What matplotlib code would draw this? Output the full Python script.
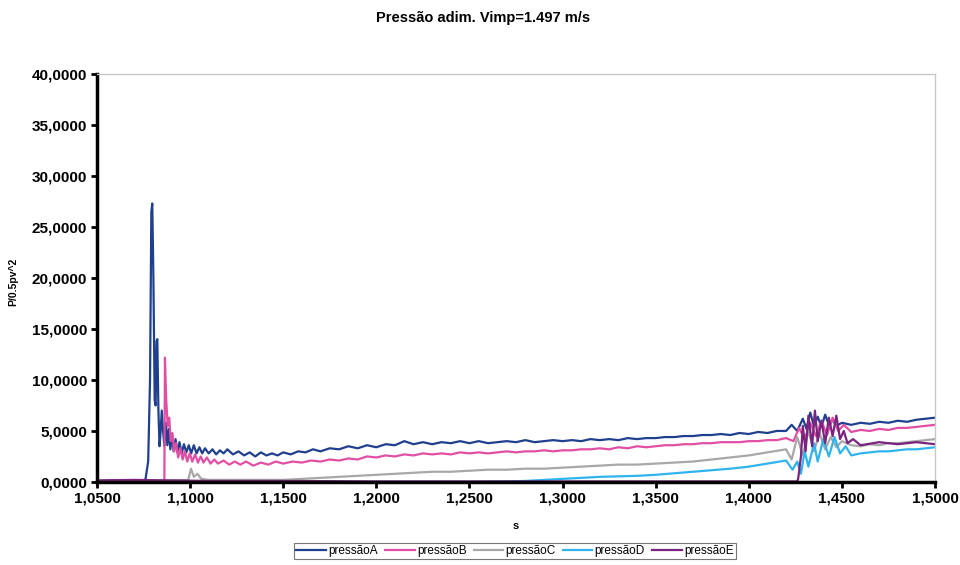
import matplotlib
matplotlib.use("Agg")
import matplotlib.pyplot as plt
from matplotlib.ticker import FuncFormatter, MultipleLocator

plt.rcParams['font.family'] = ['Liberation Sans', 'DejaVu Sans']

# pressão A
t_a = [1.0500, 1.0600, 1.0700, 1.0760, 1.0775, 1.0785, 1.0792, 1.0797, 1.0803, 1.0810,
       1.0815, 1.0820, 1.0824, 1.0830, 1.0836, 1.0842, 1.0848, 1.0855, 1.0862, 1.0870,
       1.0878, 1.0886, 1.0894, 1.0903, 1.0912, 1.0922, 1.0932, 1.0943, 1.0955, 1.0967,
       1.0980, 1.0993, 1.1006, 1.1020, 1.1035, 1.1050, 1.1065, 1.1080, 1.1100, 1.1120,
       1.1140, 1.1160, 1.1180, 1.1200, 1.1230, 1.1260, 1.1290, 1.1320, 1.1350, 1.1380,
       1.1410, 1.1440, 1.1470, 1.1500, 1.1540, 1.1580, 1.1620, 1.1660, 1.1700, 1.1750,
       1.1800, 1.1850, 1.1900, 1.1950, 1.2000, 1.2050, 1.2100, 1.2150, 1.2200, 1.2250,
       1.2300, 1.2350, 1.2400, 1.2450, 1.2500, 1.2550, 1.2600, 1.2650, 1.2700, 1.2750,
       1.2800, 1.2850, 1.2900, 1.2950, 1.3000, 1.3050, 1.3100, 1.3150, 1.3200, 1.3250,
       1.3300, 1.3350, 1.3400, 1.3450, 1.3500, 1.3550, 1.3600, 1.3650, 1.3700, 1.3750,
       1.3800, 1.3850, 1.3900, 1.3950, 1.4000, 1.4050, 1.4100, 1.4150, 1.4200, 1.4230,
       1.4260, 1.4290, 1.4310, 1.4330, 1.4350, 1.4370, 1.4390, 1.4410, 1.4430, 1.4450,
       1.4470, 1.4500, 1.4550, 1.4600, 1.4650, 1.4700, 1.4750, 1.4800, 1.4850, 1.4900,
       1.4950, 1.5000]
p_a = [0.10, 0.15, 0.10, 0.20, 2.0, 10.0, 26.5, 27.3, 20.0, 8.0,
       7.5, 13.8, 14.0, 7.0, 3.5, 5.0, 7.0, 5.0, 3.5, 5.8,
       3.6, 5.2, 3.2, 4.6, 3.0, 4.2, 2.9, 3.9, 2.8, 3.7,
       2.9, 3.6, 2.8, 3.6, 2.8, 3.4, 2.8, 3.3, 2.8, 3.2,
       2.7, 3.1, 2.8, 3.2, 2.7, 3.0, 2.6, 2.9, 2.5, 2.9,
       2.6, 2.8, 2.6, 2.9, 2.7, 3.0, 2.9, 3.2, 3.0, 3.3,
       3.2, 3.5, 3.3, 3.6, 3.4, 3.7, 3.6, 4.0, 3.7, 3.9,
       3.7, 3.9, 3.8, 4.0, 3.8, 4.0, 3.8, 3.9, 4.0, 3.9,
       4.1, 3.9, 4.0, 4.1, 4.0, 4.1, 4.0, 4.2, 4.1, 4.2,
       4.1, 4.3, 4.2, 4.3, 4.3, 4.4, 4.4, 4.5, 4.5, 4.6,
       4.6, 4.7, 4.6, 4.8, 4.7, 4.9, 4.8, 5.0, 5.0, 5.6,
       5.0, 6.2, 5.2, 6.8, 5.5, 6.4, 5.4, 6.6, 5.6, 6.1,
       5.5, 5.8, 5.6, 5.8, 5.7, 5.9, 5.8, 6.0, 5.9, 6.1,
       6.2, 6.3]

# pressão B
t_b = [1.0500, 1.0600, 1.0700, 1.0800, 1.0862, 1.0865, 1.0872, 1.0880, 1.0888, 1.0896,
       1.0905, 1.0915, 1.0925, 1.0936, 1.0948, 1.0960, 1.0972, 1.0985, 1.0998, 1.1012,
       1.1027, 1.1042, 1.1057, 1.1072, 1.1090, 1.1110, 1.1130, 1.1150, 1.1180, 1.1210,
       1.1240, 1.1270, 1.1300, 1.1340, 1.1380, 1.1420, 1.1460, 1.1500, 1.1550, 1.1600,
       1.1650, 1.1700, 1.1750, 1.1800, 1.1850, 1.1900, 1.1950, 1.2000, 1.2050, 1.2100,
       1.2150, 1.2200, 1.2250, 1.2300, 1.2350, 1.2400, 1.2450, 1.2500, 1.2550, 1.2600,
       1.2650, 1.2700, 1.2750, 1.2800, 1.2850, 1.2900, 1.2950, 1.3000, 1.3050, 1.3100,
       1.3150, 1.3200, 1.3250, 1.3300, 1.3350, 1.3400, 1.3450, 1.3500, 1.3550, 1.3600,
       1.3650, 1.3700, 1.3750, 1.3800, 1.3850, 1.3900, 1.3950, 1.4000, 1.4050, 1.4100,
       1.4150, 1.4200, 1.4240, 1.4270, 1.4300, 1.4330, 1.4360, 1.4390, 1.4420, 1.4450,
       1.4480, 1.4510, 1.4550, 1.4600, 1.4650, 1.4700, 1.4750, 1.4800, 1.4850, 1.4900,
       1.4950, 1.5000]
p_b = [0.05, 0.05, 0.10, 0.05, 0.10, 12.2, 8.0, 5.5, 6.3, 4.0,
       4.8, 3.0, 3.8, 2.4, 3.3, 2.2, 3.0, 2.0, 2.8, 2.0,
       2.7, 1.9, 2.5, 1.9, 2.4, 1.8, 2.2, 1.8, 2.1, 1.7,
       2.0, 1.7, 2.0, 1.6, 1.9, 1.7, 2.0, 1.8, 2.0, 1.9,
       2.1, 2.0, 2.2, 2.1, 2.3, 2.2, 2.5, 2.4, 2.6, 2.5,
       2.7, 2.6, 2.8, 2.7, 2.8, 2.7, 2.9, 2.8, 2.9, 2.8,
       2.9, 3.0, 2.9, 3.0, 3.0, 3.1, 3.0, 3.1, 3.1, 3.2,
       3.2, 3.3, 3.2, 3.4, 3.3, 3.5, 3.4, 3.5, 3.6, 3.6,
       3.7, 3.7, 3.8, 3.8, 3.9, 3.9, 3.9, 4.0, 4.0, 4.1,
       4.1, 4.3, 4.0, 5.3, 4.2, 5.8, 4.5, 6.0, 4.6, 6.3,
       5.0, 5.6, 4.9, 5.1, 5.0, 5.2, 5.1, 5.3, 5.3, 5.4,
       5.5, 5.6]

# pressão C
t_c = [1.0500, 1.0700, 1.0900, 1.0990, 1.1005, 1.1020, 1.1040, 1.1060, 1.1100, 1.1300,
       1.1500, 1.1600, 1.1700, 1.1800, 1.1900, 1.2000, 1.2100, 1.2200, 1.2300, 1.2400,
       1.2500, 1.2600, 1.2700, 1.2800, 1.2900, 1.3000, 1.3100, 1.3200, 1.3300, 1.3400,
       1.3500, 1.3600, 1.3700, 1.3800, 1.3900, 1.4000, 1.4100, 1.4200, 1.4230, 1.4260,
       1.4290, 1.4320, 1.4350, 1.4380, 1.4410, 1.4440, 1.4470, 1.4500, 1.4550, 1.4600,
       1.4650, 1.4700, 1.4750, 1.4800, 1.4850, 1.4900, 1.4950, 1.5000]
p_c = [0.10, 0.10, 0.15, 0.20, 1.3, 0.5, 0.8, 0.3, 0.2, 0.2,
       0.2, 0.3, 0.4, 0.5, 0.6, 0.7, 0.8, 0.9, 1.0, 1.0,
       1.1, 1.2, 1.2, 1.3, 1.3, 1.4, 1.5, 1.6, 1.7, 1.7,
       1.8, 1.9, 2.0, 2.2, 2.4, 2.6, 2.9, 3.2, 2.2, 4.4,
       2.6, 5.0, 3.0, 4.8, 3.2, 4.4, 3.4, 4.0, 3.6, 3.5,
       3.7, 3.6, 3.8, 3.8, 3.9, 4.0, 4.1, 4.2]

# pressão D
t_d = [1.0500, 1.1000, 1.1500, 1.2000, 1.2500, 1.2700, 1.2800, 1.2900, 1.3000, 1.3100,
       1.3200, 1.3300, 1.3400, 1.3500, 1.3600, 1.3700, 1.3800, 1.3900, 1.4000, 1.4100,
       1.4200, 1.4235, 1.4260, 1.4280, 1.4300, 1.4320, 1.4350, 1.4370, 1.4400, 1.4430,
       1.4460, 1.4490, 1.4520, 1.4550, 1.4600, 1.4650, 1.4700, 1.4750, 1.4800, 1.4850,
       1.4900, 1.4950, 1.5000]
p_d = [0.00, 0.00, 0.00, 0.00, 0.00, 0.05, 0.10, 0.20, 0.30, 0.40,
       0.50, 0.55, 0.60, 0.70, 0.85, 1.00, 1.15, 1.30, 1.50, 1.80,
       2.10, 1.20, 2.00, 0.80, 3.00, 1.50, 3.80, 2.00, 4.20, 2.50,
       4.40, 2.80, 3.50, 2.60, 2.80, 2.90, 3.00, 3.00, 3.10, 3.20,
       3.20, 3.30, 3.40]

# pressão E
t_e = [1.0500, 1.0700, 1.0900, 1.1100, 1.1500, 1.2000, 1.2500, 1.3000, 1.3500, 1.4000,
       1.4260, 1.4265, 1.4280, 1.4290, 1.4305, 1.4320, 1.4340, 1.4355, 1.4370, 1.4390,
       1.4410, 1.4430, 1.4450, 1.4470, 1.4490, 1.4510, 1.4530, 1.4560, 1.4600, 1.4700,
       1.4800, 1.4900, 1.5000]
p_e = [0.15, 0.20, 0.15, 0.10, 0.10, 0.05, 0.05, 0.05, 0.05, 0.05,
       0.05, 0.30, 2.50, 5.50, 3.00, 6.50, 3.50, 7.00, 4.00, 6.00,
       3.80, 6.30, 4.50, 6.50, 4.20, 5.00, 3.80, 4.20, 3.60, 3.90,
       3.70, 3.90, 3.70]

series = [
    ("pressãoA", t_a, p_a, "#1f3f8f"),
    ("pressãoB", t_b, p_b, "#e04fa4"),
    ("pressãoC", t_c, p_c, "#a8a8a8"),
    ("pressãoD", t_d, p_d, "#2fb4ee"),
    ("pressãoE", t_e, p_e, "#7a237f"),
]

fig = plt.figure(figsize=(9.6, 5.65), dpi=100)
ax = fig.add_axes([0.101, 0.147, 0.873, 0.722])

for name, t, p, color in series:
    ax.plot(t, p, color=color, lw=1.6, label=name)

ax.set_xlim(1.05, 1.5)
ax.set_ylim(0, 40)
ax.xaxis.set_major_locator(MultipleLocator(0.05))
ax.yaxis.set_major_locator(MultipleLocator(5))
comma = FuncFormatter(lambda v, _: f"{v:.4f}".replace(".", ","))
ax.xaxis.set_major_formatter(comma)
ax.yaxis.set_major_formatter(comma)

for side in ("left", "bottom"):
    ax.spines[side].set_linewidth(2.5)
    ax.spines[side].set_color("black")
for side in ("top", "right"):
    ax.spines[side].set_linewidth(1.0)
    ax.spines[side].set_color("#c8c8c8")

ax.tick_params(direction="out", length=4, width=2, labelsize=11, pad=3)
for lbl in ax.get_xticklabels() + ax.get_yticklabels():
    lbl.set_fontweight("bold")

ax.set_xlabel("s", fontsize=8, fontweight="bold")
ax.xaxis.set_label_coords(0.5, -0.095)
ax.set_ylabel("P/0.5pv^2", fontsize=7.5, fontweight="bold")
ax.yaxis.set_label_coords(-0.094, 0.49)
fig.text(0.503, 0.968, "Pressão adim. Vimp=1.497 m/s", fontsize=10.5,
         fontweight="bold", ha="center", va="center")

leg = fig.legend(loc="center", bbox_to_anchor=(515 / 960, 1 - 551 / 565), ncol=5,
                 frameon=True, fancybox=False, fontsize=8.5, handlelength=2.5,
                 handletextpad=0.2, columnspacing=0.6, borderpad=0.2)
leg.get_frame().set_edgecolor("#555555")
leg.get_frame().set_linewidth(0.8)

fig.savefig("out.png", dpi=100)
